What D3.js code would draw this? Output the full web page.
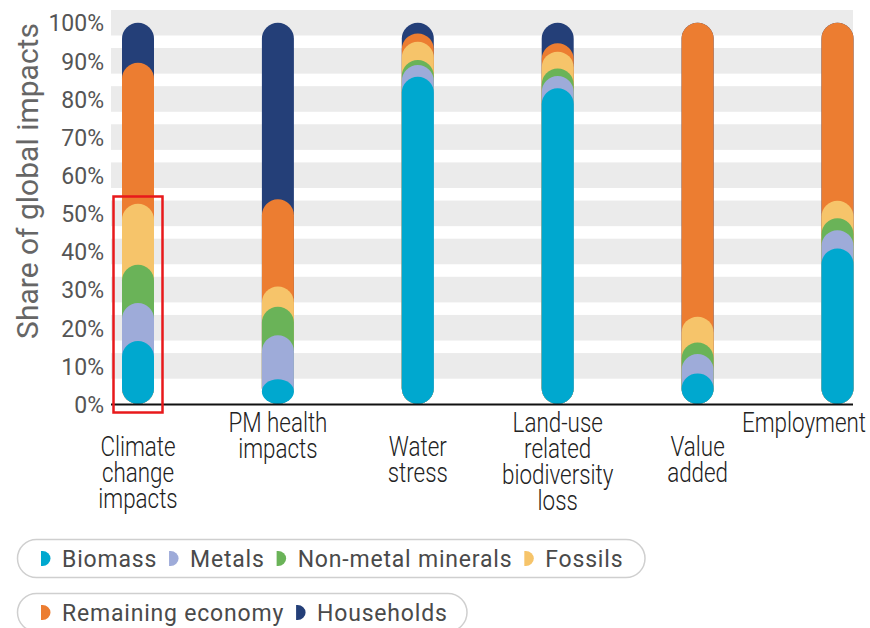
<!DOCTYPE html>
<html><head><meta charset="utf-8">
<script src="https://cdn.jsdelivr.net/npm/d3@7"></script>
<style>
html,body{margin:0;padding:0;background:#fff;}
svg{display:block;font-family:Roboto,"Noto Sans",sans-serif;}
</style></head>
<body>
<svg id="chart" width="870" height="628"></svg>
<script>
// ---- data ----
const categories = ["Climate change impacts","PM health impacts","Water stress","Land-use related biodiversity loss","Value added","Employment"];
const categoryLines = [["Climate","change","impacts"],["PM health","impacts"],["Water","stress"],["Land-use","related","biodiversity","loss"],["Value","added"],["Employment"]];
const seriesNames = ["Biomass","Metals","Non-metal minerals","Fossils","Remaining economy","Households"];
const biomass    = [16.5, 6.5, 85.8, 82.8, 8.0, 40.8];
const metals     = [10.0, 11.5, 3.1, 3.2, 5.1, 4.8];
const nonMetal   = [10.0, 7.5, 1.3, 2.0, 3.0, 3.1];
const fossils    = [16.0, 5.3, 4.8, 4.4, 6.8, 4.6];
const remaining  = [37.0, 22.9, 2.2, 2.2, 77.1, 46.7];
const households = [10.5, 46.3, 2.8, 5.4, 0.0, 0.0];
const yTicks = [0,10,20,30,40,50,60,70,80,90,100];
const colors = ["#00a8cf","#9eabd9","#6ab358","#f6c46a","#ec7d31","#243f78"];

const seriesValues = [biomass, metals, nonMetal, fossils, remaining, households];

const svg = d3.select("#chart");
const plotLeft = 111, plotRight = 853, plotTop = 10;
const y = d3.scaleLinear().domain([0,100]).range([404, 22.7]);
const x = d3.scalePoint().domain(categories).range([138, 837.5]);
const barW = 32;

// gray bands
const bandHalf = 12.8;
svg.append("g").selectAll("rect").data(yTicks.filter(v => v > 0)).join("rect")
  .attr("x", plotLeft).attr("width", plotRight - plotLeft)
  .attr("y", d => Math.max(plotTop, y(d) - bandHalf))
  .attr("height", d => (y(d) + bandHalf) - Math.max(plotTop, y(d) - bandHalf))
  .attr("fill", "#ebebeb");

// y tick labels
const yAxis = d3.axisLeft(y).tickValues(yTicks).tickFormat(d => d + "%").tickSize(0).tickPadding(0);
const yg = svg.append("g").attr("transform", "translate(104,0)").call(yAxis);
yg.select(".domain").remove();
yg.selectAll("text").attr("font-size", 23).attr("fill", "#555").attr("font-family", "Roboto").attr("dy", "0.36em");

// y title
svg.append("text")
  .attr("transform", "translate(38,181) rotate(-90)")
  .attr("text-anchor", "middle")
  .attr("font-size", 30).attr("fill", "#666")
  .text("Share of global impacts");

// stacked pill bars
const barsG = svg.append("g");
categories.forEach((cat, ci) => {
  const cums = [];
  let acc = 0;
  seriesValues.forEach(s => { acc += s[ci]; cums.push(acc); });
  const items = seriesNames.map((n, si) => ({si, top: cums[si]})).reverse();
  barsG.selectAll(null).data(items).join("rect")
    .attr("x", x(cat) - barW/2).attr("width", barW)
    .attr("y", d => y(d.top))
    .attr("height", d => y(0) - y(d.top))
    .attr("rx", barW/2).attr("ry", barW/2)
    .attr("fill", d => colors[d.si]);
});

// x axis line
svg.append("line").attr("x1", plotLeft).attr("x2", plotRight).attr("y1", 404.5).attr("y2", 404.5)
  .attr("stroke", "#111").attr("stroke-width", 2);

// category labels (staggered), kept inside the picture
const labG = svg.append("g");
const sx = 0.8;
categories.forEach((cat, ci) => {
  const base = (ci % 2 === 0) ? 456 : 432;
  const g = labG.append("g");
  g.selectAll("text").data(categoryLines[ci]).join("text")
    .attr("x", 0).attr("y", (d, i) => i * 26)
    .attr("text-anchor", "middle")
    .attr("font-size", 28).attr("font-weight", 300).attr("fill", "#222")
    .text(d => d);
  let maxW = 0;
  g.selectAll("text").each(function(){ maxW = Math.max(maxW, this.getComputedTextLength()); });
  const half = maxW * sx / 2;
  const cx = Math.min(x(cat), 866 - half);
  g.attr("transform", `translate(${cx},${base}) scale(${sx},1)`);
});

// red annotation box
svg.append("rect").attr("x", 113.5).attr("y", 196.5).attr("width", 49).attr("height", 216)
  .attr("fill", "none").attr("stroke", "#e8191b").attr("stroke-width", 2.5);

// legend
const legendRows = [[0,1,2,3],[4,5]];
const rowTops = [539.5, 593.5];
const rowRight = [645, 467];
legendRows.forEach((row, ri) => {
  const g = svg.append("g");
  const top = rowTops[ri], h = 38;
  g.append("rect").attr("x", 17.5).attr("y", top).attr("width", rowRight[ri] - 17.5).attr("height", h)
    .attr("rx", 19).attr("fill", "#fff").attr("stroke", "#cfcfcf").attr("stroke-width", 1.5);
  let cx = 41;
  const cy = top + 19;
  row.forEach(si => {
    g.append("path")
      .attr("d", `M${cx},${cy-7.5} h1.5 a8,7.5 0 0 1 0,15 h-1.5 z`)
      .attr("fill", colors[si]);
    const t = g.append("text").attr("x", cx + 21).attr("y", cy + 8)
      .attr("font-size", 23).attr("letter-spacing", 0.8).attr("fill", "#4a4a4a")
      .text(seriesNames[si]);
    cx = cx + 21 + t.node().getComputedTextLength() + 12;
  });
});
</script>
</body></html>
